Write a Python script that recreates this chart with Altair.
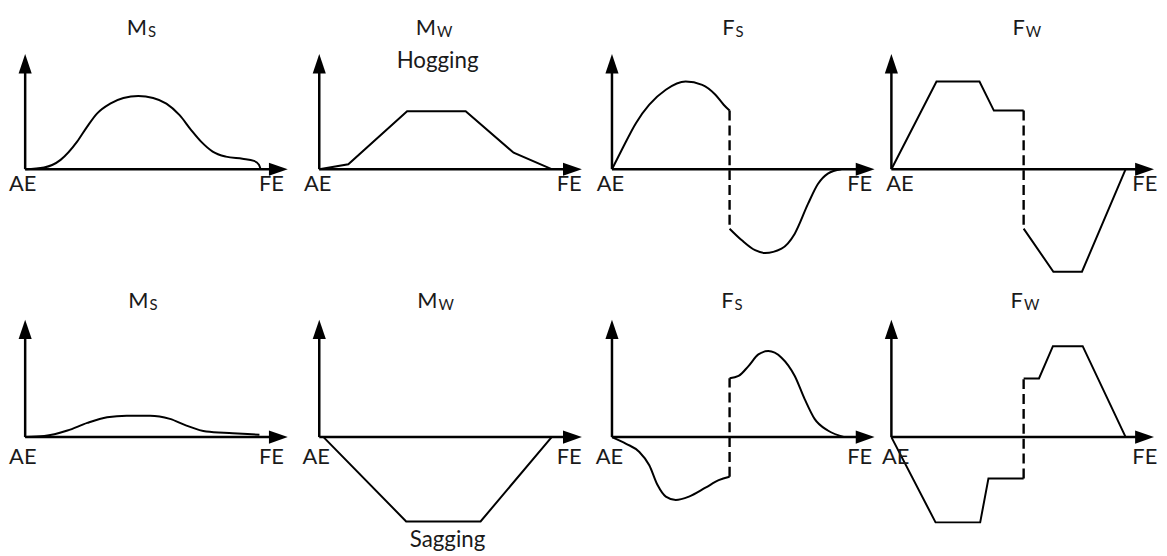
import altair as alt
import pandas as pd

# ---------------- values ----------------
# x: position along the ship, AE = 0 ... FE = 1
# y: relative magnitude, height of the vertical axis = 1

# --- Hogging (top row) ---
MS_HOG_X = [0, 0.080, 0.150, 0.220, 0.262, 0.304, 0.360, 0.416, 0.479, 0.542,
            0.598, 0.654, 0.703, 0.745, 0.794, 0.850, 0.920, 0.969, 0.990, 0.997]
MS_HOG_Y = [0, 0.015, 0.081, 0.239, 0.368, 0.483, 0.569, 0.618, 0.635, 0.618,
            0.569, 0.469, 0.340, 0.239, 0.153, 0.109, 0.090, 0.072, 0.038, 0]

MW_HOG_X = [0, 0.123, 0.372, 0.620, 0.823, 0.984]
MW_HOG_Y = [0, 0.043, 0.503, 0.503, 0.143, 0]

FS_HOG_X1 = [0, 0.046, 0.102, 0.158, 0.228, 0.312, 0.382, 0.438, 0.473, 0.498]
FS_HOG_Y1 = [0, 0.186, 0.402, 0.560, 0.690, 0.761, 0.733, 0.647, 0.560, 0.509]
FS_HOG_X2 = [0.498, 0.550, 0.606, 0.648, 0.718, 0.774, 0.830, 0.872, 0.914, 0.971]
FS_HOG_Y2 = [-0.517, -0.618, -0.704, -0.728, -0.690, -0.560, -0.302, -0.129, -0.038, 0]

FW_HOG_X1 = [0, 0.191, 0.373, 0.434, 0.560]
FW_HOG_Y1 = [0, 0.761, 0.761, 0.509, 0.509]
FW_HOG_X2 = [0.560, 0.686, 0.807, 0.992]
FW_HOG_Y2 = [-0.517, -0.891, -0.891, 0]

# --- Sagging (bottom row) ---
MS_SAG_X = [0, 0.081, 0.179, 0.263, 0.347, 0.430, 0.529, 0.613, 0.683, 0.767, 0.879, 0.992]
MS_SAG_Y = [0, 0.009, 0.057, 0.123, 0.172, 0.186, 0.186, 0.158, 0.100, 0.048, 0.034, 0.020]

MW_SAG_X = [0.018, 0.368, 0.683, 0.984]
MW_SAG_Y = [0, -0.733, -0.733, 0]

FS_SAG_X1 = [0, 0.060, 0.116, 0.158, 0.193, 0.228, 0.270, 0.326, 0.396, 0.452, 0.498]
FS_SAG_Y1 = [0, -0.058, -0.129, -0.244, -0.417, -0.517, -0.546, -0.517, -0.440, -0.374, -0.345]
FS_SAG_X2 = [0.498, 0.536, 0.578, 0.620, 0.662, 0.718, 0.774, 0.816, 0.858, 0.914, 0.985]
FS_SAG_Y2 = [0.511, 0.531, 0.617, 0.718, 0.747, 0.690, 0.531, 0.330, 0.158, 0.057, 0]

FW_SAG_X1 = [0, 0.187, 0.376, 0.411, 0.560]
FW_SAG_Y1 = [0, -0.741, -0.741, -0.359, -0.359]
FW_SAG_X2 = [0.560, 0.625, 0.684, 0.810, 0.992]
FW_SAG_Y2 = [0.509, 0.509, 0.790, 0.790, 0]

# --- texts ---
MAIN_LETTERS = ["M", "M", "F", "F"]
SUB_LETTERS = ["S", "W", "S", "W"]
END_LABELS = ["AE", "FE"]
CONDITION_LABELS = ["Hogging", "Sagging"]

# ---------------- layout / style ----------------
COL_LEFT = [0, 292, 588, 872, 1159]      # panel edges (px from chart origin)
AXIS_X = [16.3, 312.7, 607.7, 889.3]     # AE position in each column (px)
ROW_TOP = [0, 270, 548]
AXIS_Y = [160.3, 430.3]
UNIT_X = 238.0
UNIT_Y = 116.0
AXIS_LEN_X = 1.112
AXIS_TOP = [1.0, 1.02]

TITLE_X = [[0.516, 0.494, 0.519, 0.565], [0.522, 0.501, 0.515, 0.557]]
TITLE_Y = [1.164, 1.123]
AE_X = [[-0.011, -0.007, -0.007, 0.036], [-0.010, -0.013, -0.011, 0.018]]
FE_X = [1.043, 1.058, 1.049, 1.073]
LABEL_Y = [-0.190, -0.232]
COND_POS = [(0.501, 0.882), (0.543, -0.955)]

INK = "#000000"
TEXT = "#1a1a1a"
FONT = "Lato"
UP_ARROW = "M0,0 L0.66,1.95 L-0.66,1.95 Z"
RIGHT_ARROW = "M0,0 L-1.9,-0.66 L-1.9,0.66 Z"

HOG = [
    ([(MS_HOG_X, MS_HOG_Y)], "monotone"),
    ([(MW_HOG_X, MW_HOG_Y)], "linear"),
    ([(FS_HOG_X1, FS_HOG_Y1), (FS_HOG_X2, FS_HOG_Y2)], "monotone"),
    ([(FW_HOG_X1, FW_HOG_Y1), (FW_HOG_X2, FW_HOG_Y2)], "linear"),
]
SAG = [
    ([(MS_SAG_X, MS_SAG_Y)], "monotone"),
    ([(MW_SAG_X, MW_SAG_Y)], "linear"),
    ([(FS_SAG_X1, FS_SAG_Y1), (FS_SAG_X2, FS_SAG_Y2)], "monotone"),
    ([(FW_SAG_X1, FW_SAG_Y1), (FW_SAG_X2, FW_SAG_Y2)], "linear"),
]


def make_panel(row, col, segments, interp):
    w = COL_LEFT[col + 1] - COL_LEFT[col]
    h = ROW_TOP[row + 1] - ROW_TOP[row]
    off_x = AXIS_X[col] - COL_LEFT[col]
    off_y = AXIS_Y[row] - ROW_TOP[row]
    xsc = alt.Scale(domain=[-off_x / UNIT_X, (w - off_x) / UNIT_X], nice=False, zero=False)
    ysc = alt.Scale(domain=[-(h - off_y) / UNIT_Y, off_y / UNIT_Y], nice=False, zero=False)

    def xy():
        return dict(x=alt.X("x:Q", scale=xsc, axis=None),
                    y=alt.Y("y:Q", scale=ysc, axis=None))

    top = AXIS_TOP[row]
    axes_df = pd.DataFrame({"x": [0, 0], "y": [0, 0],
                            "x2": [AXIS_LEN_X - 9 / UNIT_X, 0],
                            "y2": [0, top - 9 / UNIT_Y]})
    axes = alt.Chart(axes_df).mark_rule(color=INK, strokeWidth=2.5).encode(
        **xy(), x2="x2:Q", y2="y2:Q")

    arr_x = alt.Chart(pd.DataFrame({"x": [AXIS_LEN_X], "y": [0]})).mark_point(
        shape=RIGHT_ARROW, filled=True, size=400, color=INK, opacity=1, strokeWidth=0
    ).encode(**xy())
    arr_y = alt.Chart(pd.DataFrame({"x": [0], "y": [top]})).mark_point(
        shape=UP_ARROW, filled=True, size=400, color=INK, opacity=1, strokeWidth=0
    ).encode(**xy())

    rows = []
    for s, (xs, ys) in enumerate(segments):
        for i, (xv, yv) in enumerate(zip(xs, ys)):
            rows.append({"seg": s, "i": i, "x": xv, "y": yv})
    curve = alt.Chart(pd.DataFrame(rows)).mark_line(
        color=INK, strokeWidth=2, interpolate=interp, strokeJoin="miter"
    ).encode(**xy(), detail="seg:N", order="i:Q")

    layers = [axes, arr_x, arr_y, curve]

    if len(segments) > 1:
        (x1, y1), (x2, y2) = segments
        jump = pd.DataFrame({"x": [x1[-1]], "y": [y1[-1]], "y2": [y2[0]]})
        layers.append(alt.Chart(jump).mark_rule(
            color=INK, strokeWidth=2.4, strokeDash=[10, 5]
        ).encode(**xy(), y2="y2:Q"))

    main = pd.DataFrame({"x": [TITLE_X[row][col]], "y": [TITLE_Y[row]], "t": [MAIN_LETTERS[col]]})
    sub = pd.DataFrame({"x": [TITLE_X[row][col]], "y": [TITLE_Y[row]], "t": [SUB_LETTERS[col]]})
    layers.append(alt.Chart(main).mark_text(
        align="right", baseline="alphabetic", fontSize=22, font=FONT, color=TEXT
    ).encode(**xy(), text="t:N"))
    layers.append(alt.Chart(sub).mark_text(
        align="left", baseline="alphabetic", fontSize=15, font=FONT, color=TEXT, dx=1, dy=2
    ).encode(**xy(), text="t:N"))

    ends = pd.DataFrame({"x": [AE_X[row][col], FE_X[col]],
                         "y": [LABEL_Y[row], LABEL_Y[row]],
                         "t": END_LABELS})
    layers.append(alt.Chart(ends).mark_text(
        align="center", baseline="alphabetic", fontSize=22, font=FONT, color=TEXT
    ).encode(**xy(), text="t:N"))

    if col == 1:
        cx, cy = COND_POS[row]
        cond = pd.DataFrame({"x": [cx], "y": [cy], "t": [CONDITION_LABELS[row]]})
        layers.append(alt.Chart(cond).mark_text(
            align="center", baseline="alphabetic", fontSize=22.5, font=FONT, color=TEXT
        ).encode(**xy(), text="t:N"))

    return alt.layer(*layers).properties(width=w, height=h)


panels = []
for r, spec in enumerate([HOG, SAG]):
    for c, (segs, interp) in enumerate(spec):
        panels.append(make_panel(r, c, segs, interp))

chart = (
    alt.concat(*panels, columns=4, spacing=0, bounds="flush")
    .resolve_scale(x="independent", y="independent")
    .properties(padding=0, background="white")
    .configure_view(strokeWidth=0)
)

chart.save("out.html", embed_options={"renderer": "svg", "actions": False})
